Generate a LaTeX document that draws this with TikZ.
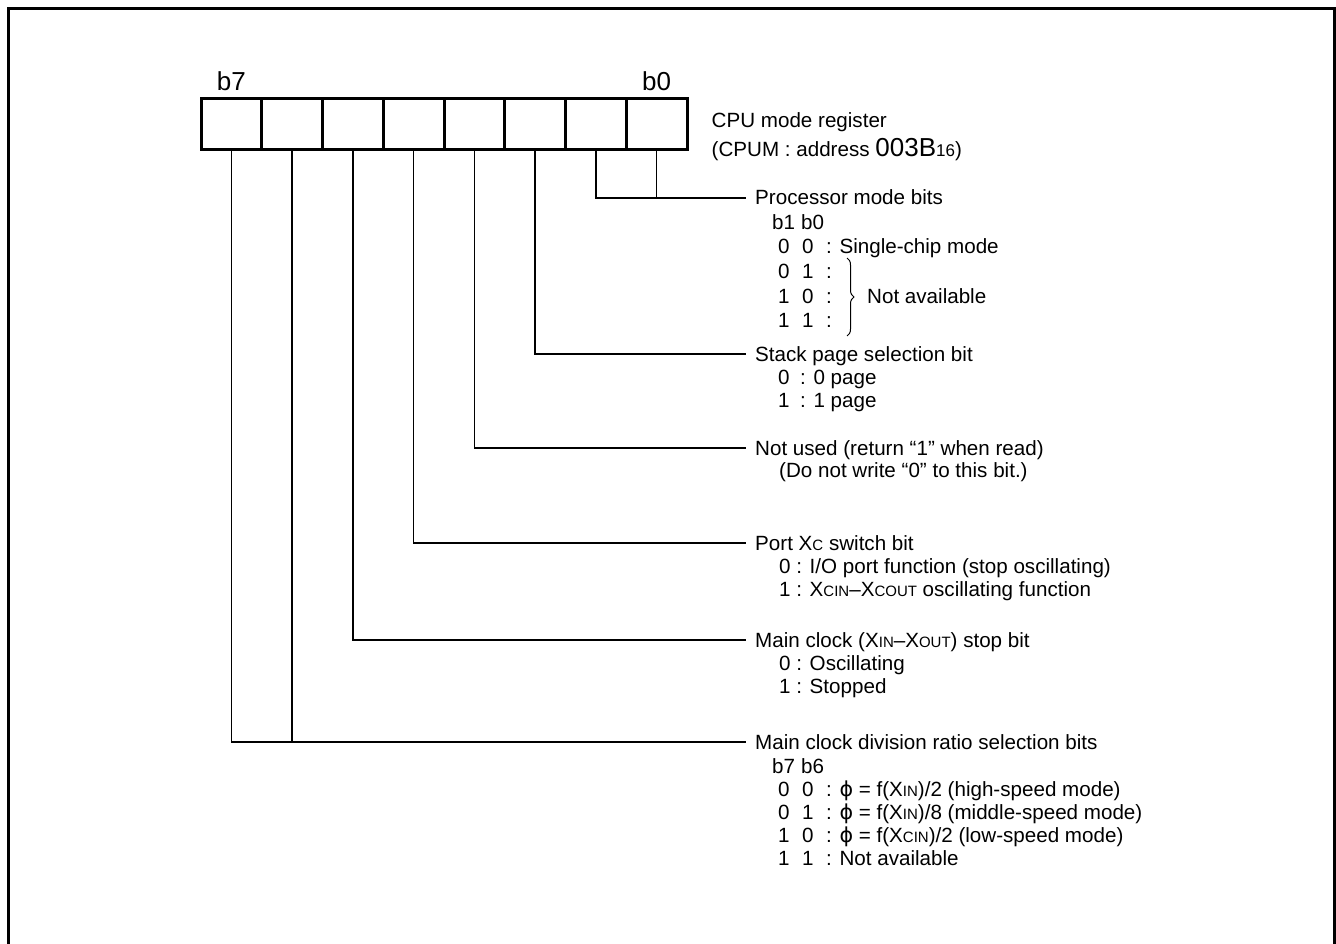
\documentclass[tikz,border=0pt]{standalone}
\usepackage{fontspec}
\setmainfont{Liberation Sans}
\newfontfamily\dejavu{DejaVu Sans}
\usetikzlibrary{decorations.pathreplacing}
\newcommand{\xsc}[1]{{\fontsize{15}{15}\selectfont #1}}
\newcommand{\phisym}{{\dejavu ϕ}}
\begin{document}
\begin{tikzpicture}[x=1pt,y=-1pt,
  font=\fontsize{20.6}{23}\selectfont,
  cell/.style={draw, line width=3pt, minimum width=60.75pt, minimum height=51pt, inner sep=0pt, outer sep=0pt},
  conn/.style={line width=1.5pt},
  head/.style={anchor=west, inner sep=0pt, text height=16pt, text depth=2pt},
  txt/.style={anchor=base west, inner sep=0pt},
  big/.style={font=\fontsize{26}{28}\selectfont, inner sep=0pt}]
\useasboundingbox (0,0) rectangle (1336,944);
% outer frame
\draw[line width=2.7pt] (8.7,944) -- (8.7,8.7) -- (1334.6,8.7) -- (1334.6,944);
% register cells
\foreach \i in {0,...,7} {
  \node[cell] (c\i) at ({201+60.75*(7-\i+0.5)},124.5) {};
}
\node[big, anchor=base] (lb7) at ([yshift=8pt]c7.north) {b7};
\node[big, anchor=base] (lb0) at ([yshift=8pt]c0.north) {b0};
\node[txt] (t1) at (711.5,128) {CPU mode register};
\node[txt] (t2) at (711.5,157) {(CPUM : address {\fontsize{26}{28}\selectfont 003B}{\fontsize{17}{17}\selectfont 16})};
% headers
\node[head] (h0) at (755,198) {Processor mode bits};
\node[head] (h1) at (755,354) {Stack page selection bit};
\node[head] (h2) at (755,448) {Not used (return “1” when read)};
\node[head] (h3) at (755,543) {Port X\xsc{C} switch bit};
\node[head] (h4) at (755,640) {Main clock (X\xsc{IN}–X\xsc{OUT}) stop bit};
\node[head] (h5) at (755,742) {Main clock division ratio selection bits};
% connectors
\draw[conn] (c1.south) |- ([xshift=-9pt]h0.west);
\draw[conn] (c0.south) -- (c0.south |- h0.west);
\draw[conn] (c2.south) |- ([xshift=-9pt]h1.west);
\draw[conn] (c3.south) |- ([xshift=-9pt]h2.west);
\draw[conn] (c4.south) |- ([xshift=-9pt]h3.west);
\draw[conn] (c5.south) |- ([xshift=-9pt]h4.west);
\draw[conn] (c7.south) |- ([xshift=-9pt]h5.west);
\draw[conn] (c6.south) -- (c6.south |- h5.west);
% group 1: processor mode bits
\node[txt] (g1h1) at (772,229.5) {b1};
\node[txt] (g1h2) at (801,229.5) {b0};
\node[txt] (g1a1) at (778,254) {0};
\node[txt] (g1a2) at (802,254) {0};
\node[txt] (g1a3) at (826,254) {: Single-chip mode};
\node[txt] (g1b1) at (778,278.5) {0};
\node[txt] (g1b2) at (802,278.5) {1};
\node[txt] (g1b3) at (826,278.5) {:};
\node[txt] (g1c1) at (778,303) {1};
\node[txt] (g1c2) at (802,303) {0};
\node[txt] (g1c3) at (826,303) {:};
\node[txt] (g1d1) at (778,327.5) {1};
\node[txt] (g1d2) at (802,327.5) {1};
\node[txt] (g1d3) at (826,327.5) {:};
\draw[line width=1pt, decorate, decoration={brace, amplitude=7pt}] (847,258) -- (847,336);
\node[txt] (g1na) at (867,303) {Not available};
% group 2: stack page
\node[txt] (g2a1) at (778,384) {0};
\node[txt] (g2a2) at (800,384) {: 0 page};
\node[txt] (g2b1) at (778,407) {1};
\node[txt] (g2b2) at (800,407) {: 1 page};
% group 3: not used
\node[txt] (g3a) at (779,477) {(Do not write “0” to this bit.)};
% group 4: port XC
\node[txt] (g4a) at (779,573) {0 : I/O port function (stop oscillating)};
\node[txt] (g4b) at (779,596) {1 : X\xsc{CIN}–X\xsc{COUT} oscillating function};
% group 5: main clock stop
\node[txt] (g5a) at (779,670) {0 : Oscillating};
\node[txt] (g5b) at (779,693) {1 : Stopped};
% group 6: division ratio
\node[txt] (g6h1) at (772,773) {b7};
\node[txt] (g6h2) at (801,773) {b6};
\node[txt] (g6a1) at (778,796) {0};
\node[txt] (g6a2) at (802,796) {0};
\node[txt] (g6a3) at (826,796) {: \phisym\ = f(X\xsc{IN})/2 (high-speed mode)};
\node[txt] (g6b1) at (778,819) {0};
\node[txt] (g6b2) at (802,819) {1};
\node[txt] (g6b3) at (826,819) {: \phisym\ = f(X\xsc{IN})/8 (middle-speed mode)};
\node[txt] (g6c1) at (778,842) {1};
\node[txt] (g6c2) at (802,842) {0};
\node[txt] (g6c3) at (826,842) {: \phisym\ = f(X\xsc{CIN})/2 (low-speed mode)};
\node[txt] (g6d1) at (778,865) {1};
\node[txt] (g6d2) at (802,865) {1};
\node[txt] (g6d3) at (826,865) {: Not available};
\end{tikzpicture}
\end{document}
